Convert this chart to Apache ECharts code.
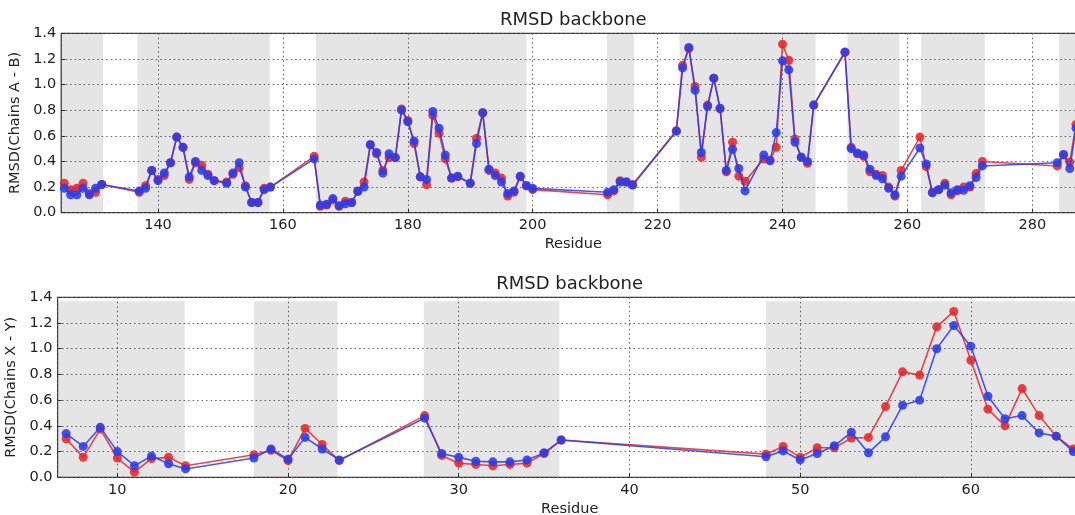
<!DOCTYPE html>
<html>
<head>
<meta charset="utf-8">
<script src="https://cdn.jsdelivr.net/npm/echarts@6/dist/echarts.min.js"></script>
<style>
  html, body { margin: 0; padding: 0; background: #ffffff; }
  #chart { width: 1075px; height: 515px; }
</style>
</head>
<body>
<div id="chart"></div>
<script>
// ---- Chains A - B ----
const residuesAB = [
  125,126,127,128,129,130,131,
  137,138,139,140,141,142,143,144,145,146,147,148,149,151,152,153,154,155,156,157,158,
  165,166,167,168,169,170,171,172,173,174,175,176,177,178,179,180,181,182,183,184,185,186,187,188,190,
  191,192,193,194,195,196,197,198,199,200,
  212,213,214,215,216,
  223,224,225,226,227,228,229,230,231,232,233,234,237,238,239,240,241,242,243,244,245,
  250,251,252,253,254,255,256,257,258,259,
  262,263,264,265,266,267,268,269,270,271,272,
  284,285,286,287
];
const rmsdAB1 = [
  0.23,0.18,0.19,0.23,0.15,0.16,0.22,
  0.16,0.21,0.33,0.26,0.29,0.39,0.59,0.51,0.26,0.39,0.37,0.30,0.25,0.24,0.30,0.35,0.21,0.08,0.08,0.19,0.20,
  0.44,0.05,0.06,0.10,0.05,0.09,0.08,0.17,0.24,0.53,0.46,0.33,0.43,0.43,0.81,0.72,0.54,0.28,0.22,0.76,0.62,0.42,0.27,0.28,0.23,
  0.58,0.78,0.33,0.31,0.27,0.13,0.16,0.28,0.21,0.18,
  0.14,0.17,0.25,0.24,0.22,
  0.64,1.15,1.28,0.985,0.435,0.84,1.05,0.81,0.32,0.55,0.285,0.245,0.42,0.41,0.51,1.315,1.19,0.575,0.43,0.385,0.84,
  1.25,0.51,0.46,0.44,0.32,0.30,0.29,0.20,0.13,0.33,
  0.59,0.36,0.16,0.18,0.23,0.14,0.17,0.20,0.20,0.305,0.40,
  0.365,0.45,0.395,0.69
];
const rmsdAB2 = [
  0.19,0.14,0.14,0.19,0.14,0.19,0.22,
  0.17,0.19,0.33,0.25,0.31,0.39,0.59,0.51,0.28,0.40,0.33,0.29,0.25,0.23,0.31,0.39,0.20,0.08,0.08,0.18,0.20,
  0.42,0.06,0.065,0.11,0.055,0.07,0.08,0.165,0.20,0.53,0.47,0.31,0.46,0.43,0.80,0.71,0.56,0.28,0.26,0.79,0.66,0.45,0.27,0.285,0.23,
  0.54,0.78,0.34,0.29,0.24,0.15,0.17,0.285,0.21,0.19,
  0.16,0.18,0.24,0.24,0.215,
  0.635,1.13,1.29,0.955,0.47,0.83,1.05,0.815,0.33,0.495,0.345,0.17,0.45,0.405,0.625,1.185,1.115,0.55,0.435,0.40,0.84,
  1.255,0.50,0.465,0.45,0.34,0.29,0.265,0.19,0.14,0.285,
  0.505,0.38,0.155,0.18,0.215,0.155,0.18,0.175,0.21,0.275,0.365,
  0.39,0.455,0.345,0.66
];
const bandsAB = [
  [124.5,131.2],[136.7,157.9],[165.3,199.0],[211.9,216.2],
  [223.5,245.3],[250.4,258.7],[262.2,272.4],[284.3,288.5]
];

// ---- Chains X - Y ----
const residuesXY = [
  7,8,9,10,11,12,13,14,
  18,19,20,21,22,23,
  28,29,30,31,32,33,34,35,36,
  48,49,50,51,52,53,54,55,56,57,58,59,60,61,62,63,64,65,66
];
const rmsdXY1 = [
  0.30,0.155,0.375,0.15,0.04,0.145,0.155,0.09,
  0.175,0.21,0.13,0.38,0.255,0.13,
  0.48,0.17,0.11,0.10,0.09,0.10,0.11,0.185,0.29,
  0.18,0.24,0.155,0.23,0.23,0.305,0.31,0.55,0.82,0.795,1.17,1.29,0.91,0.53,0.40,0.69,0.48,0.32,0.22
];
const rmsdXY2 = [
  0.34,0.24,0.39,0.20,0.09,0.165,0.105,0.065,
  0.15,0.22,0.14,0.31,0.22,0.135,
  0.46,0.185,0.155,0.125,0.12,0.12,0.135,0.19,0.29,
  0.16,0.205,0.135,0.185,0.245,0.35,0.19,0.315,0.56,0.60,1.0,1.18,1.02,0.63,0.455,0.48,0.345,0.32,0.20
];
const bandsXY = [[6.5,13.95],[18.0,22.9],[27.95,35.9],[48.0,66.5]];
const bandTopXY = 1.37;

const RED = '#e8262a';
const BLUE = '#2b3bea';
const FONT = 'DejaVu Sans';
const TXT = '#222222';

const pairs = (xs, ys) => xs.map((x, i) => [x, ys[i]]);

function xAxisFor(gridIndex, min, max, step) {
  return {
    type: 'value', gridIndex, min, max,
    splitNumber: Math.round((max - min) / step),
    minInterval: step, maxInterval: step,
    name: 'Residue', nameLocation: 'middle', nameGap: 24,
    nameTextStyle: { fontFamily: FONT, fontSize: 14.5, color: TXT },
    axisLine: { show: false },
    axisTick: { show: true, inside: true, length: 4, lineStyle: { color: '#333' } },
    axisLabel: { fontFamily: FONT, fontSize: 14.5, color: TXT, margin: 5,
                 showMinLabel: false, showMaxLabel: false },
    splitLine: { show: true, lineStyle: { type: [1.5, 3], color: '#666', width: 1 } }
  };
}
function yAxisFor(gridIndex, name, gap) {
  return {
    type: 'value', gridIndex, min: 0, max: 1.4, interval: 0.2,
    name, nameLocation: 'middle', nameGap: gap,
    nameTextStyle: { fontFamily: FONT, fontSize: 14.5, color: TXT },
    axisLine: { show: false },
    axisTick: { show: true, inside: true, length: 4, lineStyle: { color: '#333' } },
    axisLabel: { fontFamily: FONT, fontSize: 14.5, color: TXT, margin: 5,
                 formatter: v => v.toFixed(1) },
    splitLine: { show: true, lineStyle: { type: [1.5, 3], color: '#666', width: 1 } }
  };
}
function lineSeries(idx, data, color, z, area) {
  const s = {
    type: 'line', xAxisIndex: idx, yAxisIndex: idx, data, z,
    symbol: 'circle', symbolSize: 9, showSymbol: true,
    lineStyle: { color, width: 1.6, opacity: 0.85 },
    itemStyle: { color, opacity: 0.88 },
    emphasis: { disabled: true },
    animation: false
  };
  if (area) s.markArea = area;
  return s;
}
function bandArea(bands, top) {
  return {
    silent: true,
    itemStyle: { color: 'rgba(0,0,0,0.10)' },
    data: bands.map(b => top == null
      ? [{ xAxis: b[0] }, { xAxis: b[1] }]
      : [{ xAxis: b[0], yAxis: 0 }, { xAxis: b[1], yAxis: top }])
  };
}

const chart = echarts.init(document.getElementById('chart'), null, { renderer: 'canvas' });
chart.setOption({
  animation: false,
  backgroundColor: '#ffffff',
  title: [
    { text: 'RMSD backbone', left: 573.3, top: 11, textAlign: 'center', padding: 0,
      textStyle: { fontFamily: FONT, fontSize: 18, fontWeight: 'normal', color: TXT } },
    { text: 'RMSD backbone', left: 569.7, top: 275, textAlign: 'center', padding: 0,
      textStyle: { fontFamily: FONT, fontSize: 18, fontWeight: 'normal', color: TXT } }
  ],
  grid: [
    { left: 61.2, top: 33.3, width: 1024.2, height: 179.4, show: true,
      outerBoundsMode: 'none', containLabel: false,
      borderColor: '#333', borderWidth: 1.2, backgroundColor: 'transparent' },
    { left: 57.6, top: 297.3, width: 1024.2, height: 180, show: true,
      outerBoundsMode: 'none', containLabel: false,
      borderColor: '#333', borderWidth: 1.2, backgroundColor: 'transparent' }
  ],
  xAxis: [ xAxisFor(0, 124.5, 288.5, 20), xAxisFor(1, 6.5, 66.5, 10) ],
  yAxis: [ yAxisFor(0, 'RMSD(Chains A - B)', 33), yAxisFor(1, 'RMSD(Chains X - Y)', 34) ],
  series: [
    lineSeries(0, pairs(residuesAB, rmsdAB1), RED, 2, bandArea(bandsAB, null)),
    lineSeries(0, pairs(residuesAB, rmsdAB2), BLUE, 3),
    lineSeries(1, pairs(residuesXY, rmsdXY1), RED, 2, bandArea(bandsXY, bandTopXY)),
    lineSeries(1, pairs(residuesXY, rmsdXY2), BLUE, 3)
  ]
});
</script>
</body>
</html>
